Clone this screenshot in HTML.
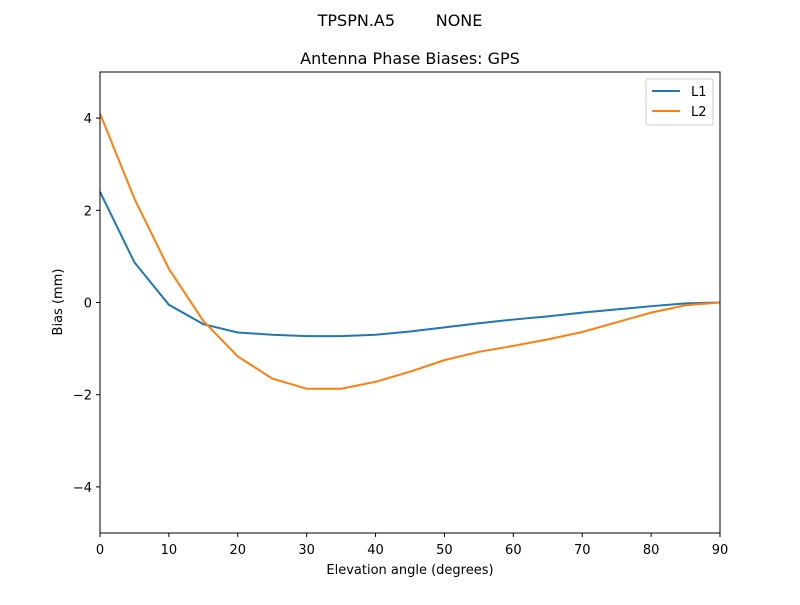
<!DOCTYPE html>
<html><head><meta charset="utf-8"><style>
body{margin:0;background:#fff;font-family:"Liberation Sans","DejaVu Sans",sans-serif;}
svg text{font-family:"DejaVu Sans","Liberation Sans",sans-serif;}
</style></head><body>
<svg id="chart" width="800" height="600" xmlns="http://www.w3.org/2000/svg">
<rect width="800" height="600" fill="#fff"/>
<text x="400" y="26" font-size="16" text-anchor="middle" style="white-space:pre" xml:space="preserve">TPSPN.A5        NONE</text>
<text x="410" y="64" font-size="16" text-anchor="middle">Antenna Phase Biases: GPS</text>
<g id="ticks"></g>
<g id="lines"></g>
<rect x="100" y="72" width="620" height="461" fill="none" stroke="#000" stroke-width="1"/>
<text x="410" y="574" font-size="13" text-anchor="middle">Elevation angle (degrees)</text>
<text x="62" y="302" font-size="13" text-anchor="middle" transform="rotate(-90 62 302)">Bias (mm)</text>
<g>
<rect x="646" y="79" width="67" height="46" fill="#fff" stroke="#ccc" rx="2"/>
<line x1="652" y1="91" x2="680" y2="91" stroke="#1f77b4" stroke-width="2"/>
<text x="691" y="96" font-size="13">L1</text>
<line x1="652" y1="111" x2="680" y2="111" stroke="#ff7f0e" stroke-width="2"/>
<text x="691" y="116" font-size="13">L2</text>
</g>
</svg>
<script>
const elev=[0,5,10,15,20,25,30,35,40,45,50,55,60,65,70,75,80,85,90];
const l1=[2.4,0.87,-0.05,-0.47,-0.65,-0.7,-0.73,-0.73,-0.7,-0.63,-0.54,-0.45,-0.37,-0.3,-0.22,-0.15,-0.08,-0.02,0];
const l2=[4.1,2.25,0.73,-0.4,-1.17,-1.65,-1.87,-1.87,-1.72,-1.5,-1.25,-1.07,-0.94,-0.8,-0.64,-0.43,-0.22,-0.06,0];
const xTicks=[0,10,20,30,40,50,60,70,80,90];
const yTicks=[-4,-2,0,2,4];
const NS="http://www.w3.org/2000/svg";
const xs=v=>100+v/90*620;
const ys=v=>302.5-v*46.1;
const tg=document.getElementById('ticks');
function mk(t,a,p){const e=document.createElementNS(NS,t);for(const k in a)e.setAttribute(k,a[k]);p.appendChild(e);return e;}
xTicks.forEach(v=>{
  const l=mk('line',{x1:xs(v),x2:xs(v),y1:533,y2:537,stroke:'#000'},tg);
  
  
  const t=mk('text',{x:xs(v),y:554,'font-size':13,'text-anchor':'middle'},tg);t.textContent=v;
  
  
});
yTicks.forEach(v=>{
  const l=mk('line',{x1:96,x2:100,y1:ys(v),y2:ys(v),stroke:'#000'},tg);
  
  
  const t=mk('text',{x:92,y:ys(v)+5,'font-size':13,'text-anchor':'end'},tg);t.textContent=v<0?'\u2212'+(-v):v;
  
  
});
const lg=document.getElementById('lines');
[[l1,'#1f77b4','line-l1'],[l2,'#ff7f0e','line-l2']].forEach(([d,c,n])=>{
  const p=mk('polyline',{points:d.map((v,i)=>xs(elev[i])+','+ys(v)).join(' '),fill:'none',stroke:c,'stroke-width':2},lg);
  
  
});
</script>
</body></html>
